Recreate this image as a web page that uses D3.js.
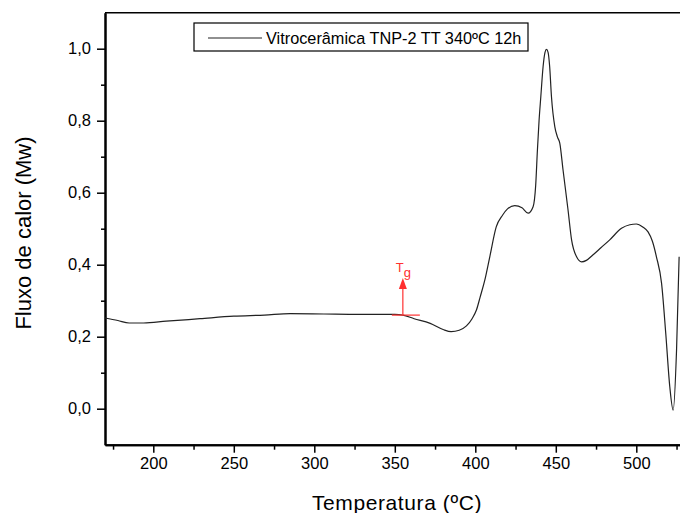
<!DOCTYPE html>
<meta charset="utf-8">
<script src="https://d3js.org/d3.v7.min.js"></script>
<style>
  body { margin: 0; background: #fff; }
  text { font-family: "Liberation Sans", Arial, sans-serif; }
</style>
<div id="chart"></div>
<script>
  // DSC curve
  var temperature = [170, 178, 185, 194, 208, 229, 250, 269, 285, 306, 328, 350, 355, 362, 372, 380, 385, 390, 394.5, 398, 400.7, 403, 405.9, 409, 413, 417, 420, 424.5, 429, 432.8, 435.9, 437.5, 438.6, 439.6, 440.7, 442.1, 443.3, 444.2, 445.2, 446.2, 447.3, 449.4, 451, 452.5, 454.5, 457.6, 459.8, 462.9, 466, 469, 473, 478, 483.5, 490.8, 496, 500, 504, 507.3, 510, 512.5, 515.7, 518.3, 520.8, 522.9, 525, 526.6];
  var heatFlow = [0.252, 0.245, 0.238, 0.238, 0.243, 0.250, 0.257, 0.260, 0.264, 0.263, 0.262, 0.262, 0.260, 0.250, 0.237, 0.220, 0.214, 0.218, 0.230, 0.250, 0.274, 0.310, 0.357, 0.422, 0.505, 0.538, 0.555, 0.564, 0.558, 0.543, 0.561, 0.620, 0.720, 0.800, 0.867, 0.950, 0.990, 0.998, 0.990, 0.950, 0.867, 0.783, 0.755, 0.737, 0.663, 0.552, 0.469, 0.422, 0.408, 0.412, 0.427, 0.447, 0.469, 0.501, 0.511, 0.513, 0.505, 0.491, 0.465, 0.422, 0.348, 0.209, 0.061, -0.004, 0.163, 0.422];

  var xTicks = [200, 250, 300, 350, 400, 450, 500];
  var xMinor = [175, 225, 275, 325, 375, 425, 475, 525];
  var yTicks = [0, 0.2, 0.4, 0.6, 0.8, 1.0];
  var yMinor = [0.1, 0.3, 0.5, 0.7, 0.9];

  var legendLabels = ["Vitrocerâmica TNP-2 TT 340ºC 12h"];
  var tgPoint = [355, 0.26]; // glass transition marker

  var W = 680, H = 513;
  var svg = d3.select("#chart").append("svg")
    .attr("width", W).attr("height", H);

  var x = d3.scaleLinear().domain([170, 530]).range([105, 105 + 360 * 1.61]);
  var y = d3.scaleLinear().domain([-0.1, 1.1]).range([444.7, 12.7]);

  var fmt = function(d) { return d3.format(".1f")(d).replace(".", ","); };

  // X axis
  var gx = svg.append("g").attr("transform", "translate(0," + y(-0.1) + ")");
  gx.call(d3.axisBottom(x).tickValues(xTicks).tickSize(8).tickSizeOuter(0).tickPadding(5));
  gx.append("g").call(d3.axisBottom(x).tickValues(xMinor).tickSize(5).tickFormat("").tickSizeOuter(0));

  // Y axis
  var gy = svg.append("g").attr("transform", "translate(" + x(170) + ",0)");
  gy.call(d3.axisLeft(y).tickValues(yTicks).tickSize(8).tickSizeOuter(0).tickPadding(6).tickFormat(fmt));
  gy.append("g").call(d3.axisLeft(y).tickValues(yMinor).tickSize(4).tickFormat("").tickSizeOuter(0));

  svg.selectAll(".domain").attr("stroke", "#000").attr("stroke-width", 2);
  svg.selectAll(".tick line").attr("stroke", "#000").attr("stroke-width", 1.5);
  svg.selectAll(".tick text").attr("font-size", 16.5).attr("fill", "#000")
    .attr("font-family", "Liberation Sans, Arial, sans-serif");

  // top frame
  svg.append("line")
    .attr("x1", x(170)).attr("x2", W)
    .attr("y1", y(1.1)).attr("y2", y(1.1))
    .attr("stroke", "#000").attr("stroke-width", 1.5);

  // curve
  var pts = temperature.map(function(t, i) { return [t, heatFlow[i]]; });
  var line = d3.line()
    .x(function(d) { return x(d[0]); })
    .y(function(d) { return y(d[1]); })
    .curve(d3.curveMonotoneX);
  svg.append("path")
    .datum(pts)
    .attr("d", line)
    .attr("fill", "none")
    .attr("stroke", "#222")
    .attr("stroke-width", 1.2);

  // Tg marker
  var tx = x(tgPoint[0]), ty = y(tgPoint[1]);
  var tg = svg.append("g").attr("stroke", "#ff3030").attr("fill", "#ff3030");
  tg.append("line").attr("x1", tx - 11).attr("x2", tx + 17).attr("y1", ty).attr("y2", ty).attr("stroke-width", 1.2);
  tg.append("line").attr("x1", tx).attr("x2", tx).attr("y1", ty).attr("y2", ty - 28).attr("stroke-width", 1.2);
  tg.append("path").attr("stroke", "none")
    .attr("d", "M" + tx + "," + (ty - 37) + "L" + (tx - 4) + "," + (ty - 26) + "L" + (tx + 4) + "," + (ty - 26) + "Z");
  var tgText = svg.append("text").attr("x", tx - 7).attr("y", ty - 43)
    .attr("font-size", 13).attr("fill", "#ff3030");
  tgText.append("tspan").text("T");
  tgText.append("tspan").attr("dy", 5).attr("font-size", 13).text("g");

  // legend
  svg.append("rect")
    .attr("x", 194).attr("y", 23).attr("width", 334).attr("height", 28)
    .attr("fill", "#fff").attr("stroke", "#000").attr("stroke-width", 1.2);
  svg.append("line")
    .attr("x1", 208).attr("x2", 262).attr("y1", 38).attr("y2", 38)
    .attr("stroke", "#222").attr("stroke-width", 1.2);
  svg.append("text")
    .attr("x", 266).attr("y", 43.5)
    .attr("font-size", 16.3).attr("fill", "#000")
    .text(legendLabels[0]);

  // axis titles
  svg.append("text")
    .attr("transform", "translate(31," + 233 + ") rotate(-90)")
    .attr("text-anchor", "middle")
    .attr("font-size", 22).attr("fill", "#000")
    .text("Fluxo de calor (Mw)");
  svg.append("text")
    .attr("x", 397).attr("y", 510)
    .attr("text-anchor", "middle")
    .attr("font-size", 21).attr("letter-spacing", 0.6).attr("fill", "#000")
    .text("Temperatura (ºC)");
</script>
